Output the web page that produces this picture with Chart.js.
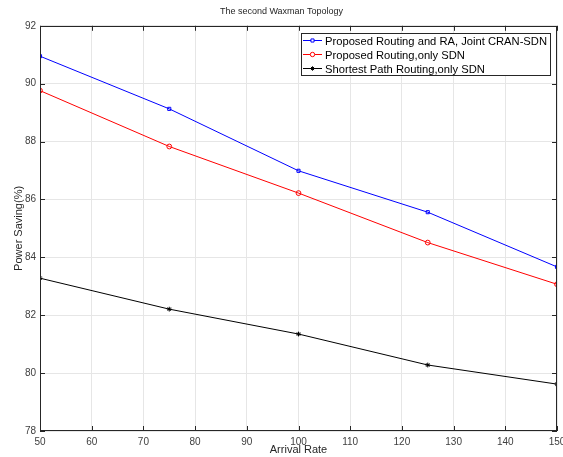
<!DOCTYPE html>
<html>
<head>
<meta charset="utf-8">
<script src="https://cdn.jsdelivr.net/npm/chart.js@4.4.0/dist/chart.umd.min.js"></script>
<style>
  html, body { margin: 0; padding: 0; background: #fff; }
  #wrap { width: 563px; height: 457px; }
</style>
</head>
<body>
<div id="wrap"><canvas id="powerChart" width="563" height="457"></canvas></div>
<script>
var arrivalRate = [50, 75, 100, 125, 150];
var jointCranSdn = [90.95, 89.13, 86.99, 85.56, 83.67];
var proposedSdn = [89.76, 87.83, 86.22, 84.51, 83.07];
var shortestPathSdn = [83.28, 82.21, 81.35, 80.28, 79.62];
var seriesLabels = ['Proposed Routing and RA, Joint CRAN-SDN', 'Proposed Routing,only SDN', 'Shortest Path Routing,only SDN'];

var FONT = '"Liberation Sans", Arial, Helvetica, sans-serif';

function toPoints(ys) {
    return arrivalRate.map(function (x, i) { return { x: x, y: ys[i] }; });
}

// matlab style box with inward ticks + legend inside the axes
var boxPlugin = {
    id: 'boxPlugin',
    afterDraw: function (chart) {
        var ctx = chart.ctx, a = chart.chartArea;
        var xs = chart.scales.x, ys = chart.scales.y;
        ctx.save();
        ctx.strokeStyle = '#262626';
        ctx.lineWidth = 1;
        ctx.strokeRect(Math.round(a.left) + 0.5, Math.round(a.top) + 0.5,
            Math.round(a.right - a.left) - 1, Math.round(a.bottom - a.top) - 1);
        ctx.beginPath();
        xs.ticks.forEach(function (t) {
            var px = Math.round(xs.getPixelForValue(t.value)) + 0.5;
            ctx.moveTo(px, a.bottom); ctx.lineTo(px, a.bottom - 5);
            ctx.moveTo(px, a.top); ctx.lineTo(px, a.top + 5);
        });
        ys.ticks.forEach(function (t) {
            var py = Math.round(ys.getPixelForValue(t.value)) + 0.5;
            ctx.moveTo(a.left, py); ctx.lineTo(a.left + 5, py);
            ctx.moveTo(a.right, py); ctx.lineTo(a.right - 5, py);
        });
        ctx.stroke();

        // legend box
        var lx = 301.5, ly = 33.5, lw = 249, lh = 42;
        ctx.fillStyle = '#fff';
        ctx.fillRect(lx, ly, lw, lh);
        ctx.strokeStyle = '#262626';
        ctx.strokeRect(lx, ly, lw, lh);
        ctx.font = '11.2px ' + FONT;
        ctx.textBaseline = 'middle';
        chart.data.datasets.forEach(function (ds, i) {
            var y = 40.5 + i * 14;
            ctx.strokeStyle = ds.borderColor;
            ctx.lineWidth = 1;
            ctx.beginPath();
            ctx.moveTo(303, y); ctx.lineTo(322, y);
            ctx.stroke();
            ctx.fillStyle = '#fff';
            Chart.helpers.drawPoint(ctx, {
                pointStyle: ds.pointStyle, radius: 2.2, borderWidth: 1, rotation: 0
            }, 312.5, y);
            ctx.fillStyle = '#000';
            ctx.fillText(ds.label, 325, y + 1);
        });
        ctx.restore();
    }
};

var ctxEl = document.getElementById('powerChart');
var powerChart = new Chart(ctxEl, {
    type: 'line',
    data: {
        datasets: [{
            label: seriesLabels[0],
            data: toPoints(jointCranSdn),
            borderColor: '#0000ff',
            backgroundColor: 'rgba(0,0,0,0)',
            pointStyle: 'rect',
            pointRadius: 2.2,
            pointBorderWidth: 1,
            borderWidth: 1
        }, {
            label: seriesLabels[1],
            data: toPoints(proposedSdn),
            borderColor: '#ff0000',
            backgroundColor: 'rgba(0,0,0,0)',
            pointStyle: 'circle',
            pointRadius: 2.4,
            pointBorderWidth: 1,
            borderWidth: 1
        }, {
            label: seriesLabels[2],
            data: toPoints(shortestPathSdn),
            borderColor: '#000000',
            backgroundColor: 'rgba(0,0,0,0)',
            pointStyle: 'star',
            pointRadius: 2.4,
            pointBorderWidth: 1,
            borderWidth: 1
        }]
    },
    options: {
        responsive: false,
        animation: false,
        layout: { padding: 0 },
        plugins: {
            legend: { display: false },
            tooltip: { enabled: false },
            title: {
                display: true,
                text: 'The second Waxman Topology',
                color: '#262626',
                font: { family: FONT, size: 9, weight: 'normal' },
                padding: { top: 6, bottom: 9 }
            }
        },
        scales: {
            x: {
                type: 'linear',
                min: 50,
                max: 150,
                ticks: { stepSize: 10, color: '#404040', font: { family: FONT, size: 10 }, padding: 5, maxRotation: 0 },
                grid: { color: '#e6e6e6', drawTicks: false },
                border: { display: false },
                title: { display: true, text: 'Arrival Rate', color: '#262626', font: { family: FONT, size: 11 }, padding: { top: 0, bottom: 0 } },
                afterFit: function (scale) {
                    scale.height = 26;
                    scale.paddingRight = 6;
                    scale.paddingLeft = 0;
                }
            },
            y: {
                min: 78,
                max: 92,
                ticks: { stepSize: 2, color: '#404040', font: { family: FONT, size: 10 }, padding: 4 },
                grid: { color: '#e6e6e6', drawTicks: false },
                border: { display: false },
                title: { display: true, text: 'Power Saving(%)', color: '#262626', font: { family: FONT, size: 11 }, padding: { top: 12, bottom: 0 } },
                afterFit: function (scale) { scale.width = 40; }
            }
        }
    },
    plugins: [boxPlugin]
});
</script>
</body>
</html>
